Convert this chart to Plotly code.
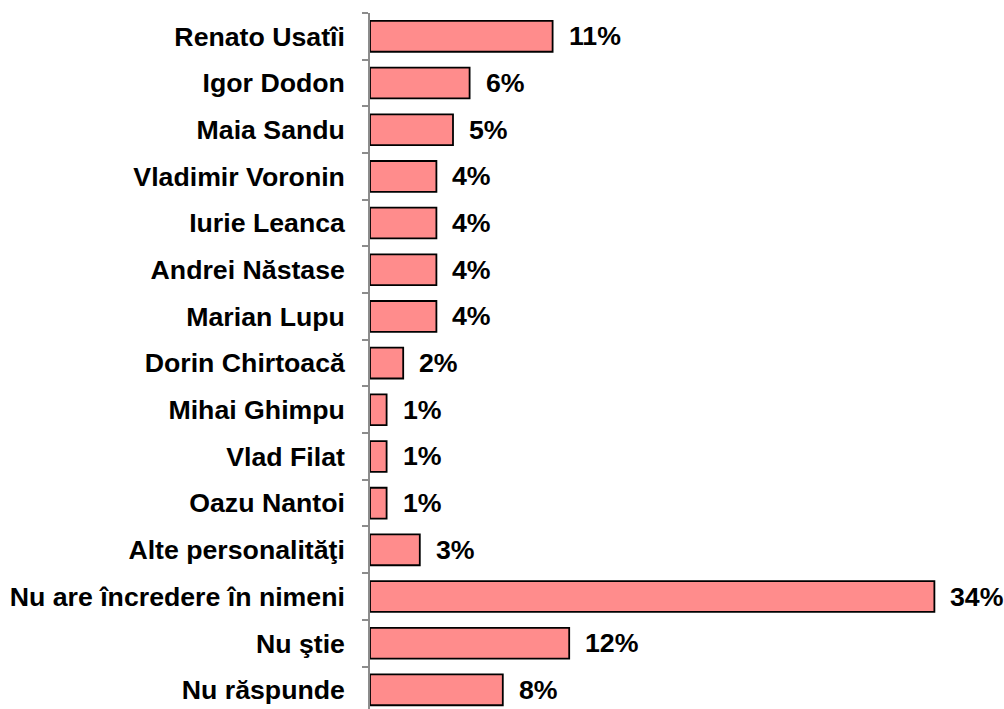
import plotly.graph_objects as go

categories = ["Renato Usatîi", "Igor Dodon", "Maia Sandu", "Vladimir Voronin", "Iurie Leanca",
              "Andrei Năstase", "Marian Lupu", "Dorin Chirtoacă", "Mihai Ghimpu", "Vlad Filat",
              "Oazu Nantoi", "Alte personalităţi", "Nu are încredere în nimeni", "Nu ştie", "Nu răspunde"]
values = [11, 6, 5, 4, 4, 4, 4, 2, 1, 1, 1, 3, 34, 12, 8]
labels = [f"{v}%" for v in values]

FONT = "Liberation Sans, Arial, sans-serif"

fig = go.Figure()
fig.add_trace(go.Bar(
    y=categories, x=values, orientation="h",
    marker=dict(color="#FF8C8C", line=dict(color="#000000", width=1.8)),
    hoverinfo="skip",
))
for c, v, t in zip(categories, values, labels):
    fig.add_annotation(x=v, y=c, text=f"<b>{t}</b>", showarrow=False,
                       xanchor="left", yanchor="middle", xshift=14,
                       font=dict(family=FONT, size=26.7, color="#000000"))

fig.update_layout(
    width=1004, height=709,
    margin=dict(l=370, r=14, t=13, b=0),
    paper_bgcolor="white", plot_bgcolor="white",
    bargap=0.34, showlegend=False,
    font=dict(family=FONT, size=26.7, color="#000000"),
)
fig.update_xaxes(range=[0, 37.35], visible=False, showgrid=False, zeroline=False)
fig.update_yaxes(
    autorange=False, range=[14.41, -0.5],
    categoryorder="array", categoryarray=categories,
    showline=True, linecolor="#8C8C8C", linewidth=1.5,
    ticks="outside", ticklen=6, tickcolor="#8C8C8C", tickwidth=1.5,
    tickson="boundaries", ticklabelstandoff=18,
    tickfont=dict(family=FONT, size=26.7, color="#000000", weight="bold"),
    showgrid=False, zeroline=False, automargin=False,
)
fig.write_html("out.html", config={"displayModeBar": False},
               post_script="document.body.style.margin='0';document.body.style.overflow='hidden';")
